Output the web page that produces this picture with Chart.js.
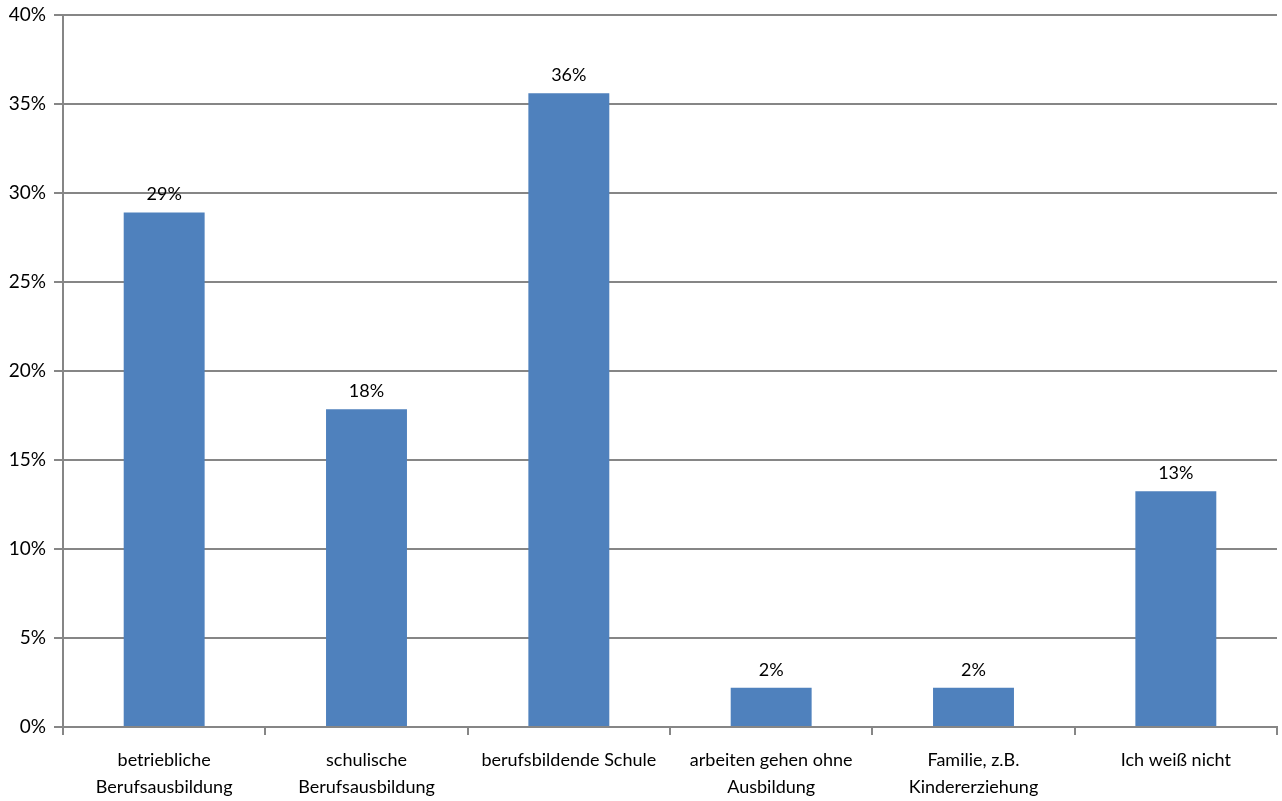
<!DOCTYPE html>
<html>
<head>
<meta charset="utf-8">
<script src="https://cdn.jsdelivr.net/npm/chart.js@4"></script>
<style>
  html, body { margin: 0; padding: 0; background: #fff; }
  #wrap { width: 1282px; height: 801px; position: relative; }
</style>
</head>
<body>
<div id="wrap"><canvas id="c"></canvas></div>
<script>
// Categories (multi-line labels) and share of answers in percent
const categories = [
  ["betriebliche", "Berufsausbildung"],
  ["schulische", "Berufsausbildung"],
  ["berufsbildende Schule"],
  ["arbeiten gehen ohne", "Ausbildung"],
  ["Familie, z.B.", "Kindererziehung"],
  ["Ich weiß nicht"]
];
const shares = [28.9, 17.85, 35.6, 2.2, 2.2, 13.25];
const yTicks = [0, 5, 10, 15, 20, 25, 30, 35, 40];

const FONT = "Lato, 'Open Sans', sans-serif";

// Draws the rounded percentage above each bar
const valueLabels = {
  id: 'valueLabels',
  afterDatasetsDraw(chart) {
    const ctx = chart.ctx;
    const meta = chart.getDatasetMeta(0);
    ctx.save();
    ctx.font = "18px " + FONT;
    ctx.fillStyle = "#000";
    ctx.textAlign = "center";
    ctx.textBaseline = "bottom";
    meta.data.forEach((bar, i) => {
      const v = chart.data.datasets[0].data[i];
      ctx.fillText(Math.round(v) + "%", bar.x, bar.y - 9);
    });
    ctx.restore();
  }
};

new Chart(document.getElementById('c'), {
  type: 'bar',
  data: {
    labels: categories,
    datasets: [{
      data: shares,
      backgroundColor: '#4f81bd',
      borderWidth: 0,
      categoryPercentage: 0.8,
      barPercentage: 0.5
    }]
  },
  options: {
    responsive: true,
    maintainAspectRatio: false,
    animation: false,
    layout: { padding: { top: 15, right: 5, left: 0, bottom: 0 } },
    plugins: { legend: { display: false }, tooltip: { enabled: false } },
    scales: {
      x: {
        grid: {
          offset: true,
          drawOnChartArea: false,
          color: '#868686',
          lineWidth: 2,
          tickLength: 8
        },
        border: { color: '#868686', width: 2 },
        ticks: {
          color: '#000',
          font: { family: FONT, size: 18, lineHeight: 1.5 },
          padding: 12,
          maxRotation: 0,
          autoSkip: false
        },
        afterFit(scale) { scale.height = 74; }
      },
      y: {
        min: 0,
        max: 40,
        afterBuildTicks(scale) { scale.ticks = yTicks.map(v => ({ value: v })); },
        grid: {
          color: '#868686',
          lineWidth: 2,
          tickLength: 9
        },
        border: { color: '#868686', width: 2 },
        ticks: {
          color: '#000',
          font: { family: FONT, size: 19 },
          padding: 8,
          callback: v => v + '%'
        },
        afterFit(scale) {
          scale.width = 63;
          scale.paddingTop = 0;
          scale.paddingBottom = 0;
        }
      }
    }
  },
  plugins: [valueLabels]
});
</script>
</body>
</html>
